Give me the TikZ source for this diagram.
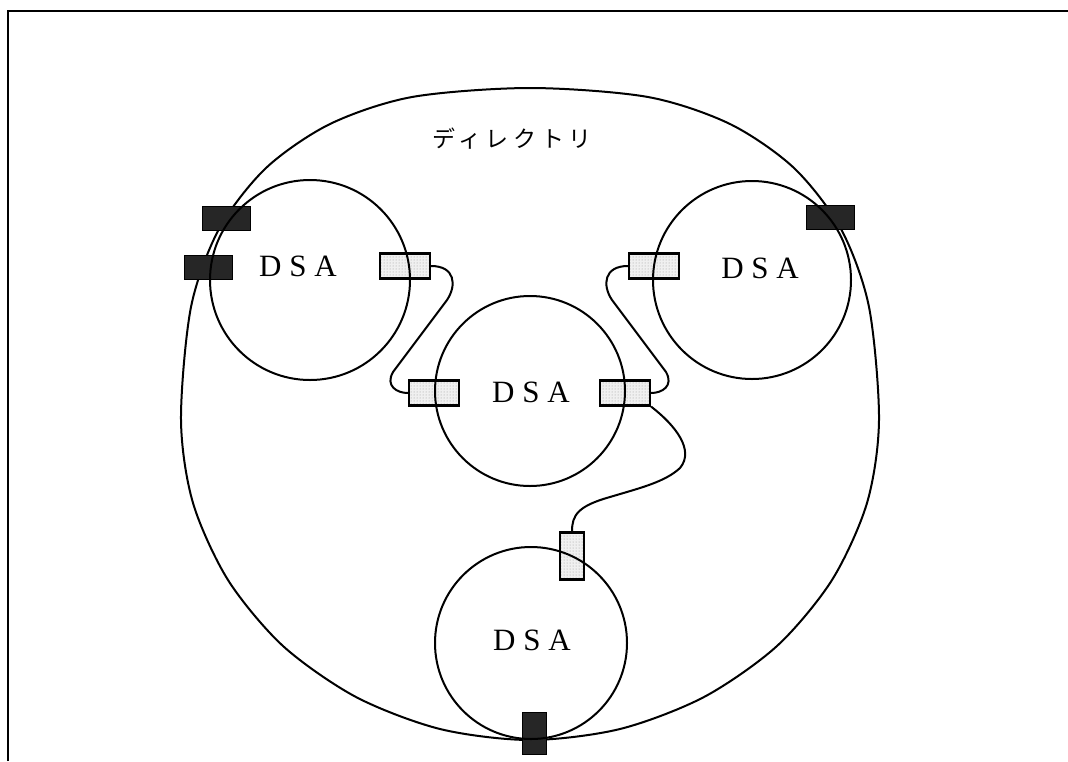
\documentclass[tikz,border=0pt]{standalone}
\usepackage{fontspec}
\setmainfont{Liberation Serif}
\newfontfamily\jpfont[LetterSpace=20]{Noto Sans CJK JP}
\usetikzlibrary{patterns}
\tikzset{
  dsa/.style={circle, draw, line width=2pt, inner sep=0pt},
  dsatext/.style={font=\fontsize{31}{31}\selectfont, inner sep=0pt},
  port/.style={draw, line width=2.2pt, inner sep=0pt, minimum width=50pt, minimum height=25pt,
    preaction={fill=gray!12}, pattern=dots, pattern color=gray!80},
  vport/.style={port, minimum width=24pt, minimum height=47pt},
  bport/.style={draw, fill=black!85, line width=1pt, inner sep=0pt, minimum width=48pt, minimum height=24pt},
  vbport/.style={bport, minimum width=24pt, minimum height=42pt}
}
\begin{document}
\begin{tikzpicture}[x=1pt,y=-1pt,line width=2pt]
  \useasboundingbox (0,0) rectangle (1068,761);
  % frame
  \draw[line width=2.6pt] (8,761) -- (8,11) -- (1068,11);
  % directory
  \draw plot[smooth cycle] coordinates {(530,88) (648,97) (730,124) (794,168) (841,229) (869,307) (879,420)
    (867,503) (832,580) (777,646) (704,697) (620,729) (530,740) (440,729) (356,697) (283,646) (228,580) (193,503)
    (181,420) (191,307) (219,229) (266,168) (330,124) (412,97)};
  \node[font=\jpfont\fontsize{23}{23}\selectfont, inner sep=0pt] (dir) at (512,139) {ディレクトリ};
  % access points
  \node[bport] (bTL) at (226,218) {};
  \node[bport] (bL) at (208,267) {};
  \node[bport] (bTR) at (830,217) {};
  \node[vbport] (bB) at (534,733) {};
  \node[port] (pL) at (405,266) {};
  \node[port] (pCl) at (434,393) {};
  \node[port] (pCr) at (625,393) {};
  \node[port] (pR) at (654,266) {};
  \node[vport] (pB) at (572,556) {};
  % DSAs
  \node[dsa, minimum size=200pt] (dsaL) at (310,280) {};
  \node[dsa, minimum size=190pt] (dsaC) at (530,391) {};
  \node[dsa, minimum size=198pt] (dsaR) at (752,280) {};
  \node[dsa, minimum size=192pt] (dsaB) at (531,643) {};
  \node[dsatext] (tL) at (298,266) {D S A};
  \node[dsatext] (tC) at (531,392) {D S A};
  \node[dsatext] (tR) at (760,268) {D S A};
  \node[dsatext] (tB) at (532,640) {D S A};
  % links
  \draw (pL.east) .. controls (455,266) and (457,285) .. (447,300) -- (393,372) .. controls (385,386) and (397,393) .. (pCl.west);
  \draw (pR.west) .. controls (604,266) and (602,285) .. (612,300) -- (666,372) .. controls (674,386) and (662,393) .. (pCr.east);
  \draw (pCr.south east) .. controls (675,425) and (695,450) .. (680,468) .. controls (665,482) and (640,488) .. (610,497) .. controls (578,506) and (572,515) .. (pB.north);
\end{tikzpicture}
\end{document}
